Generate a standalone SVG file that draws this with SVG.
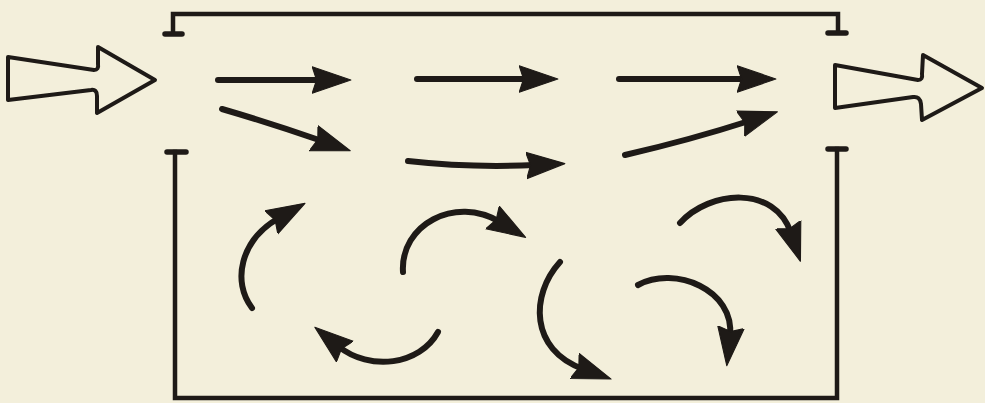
<svg xmlns="http://www.w3.org/2000/svg" width="985" height="403" viewBox="0 0 985 403">
<style>
.bg{fill:#f3efdb}
.wall{fill:none;stroke:#1e1a17;stroke-width:4.5;stroke-linecap:square;stroke-linejoin:miter}
.foot{fill:none;stroke:#1e1a17;stroke-width:5.5;stroke-linecap:round}
.hollow{fill:#f3efdb;stroke:#1e1a17;stroke-width:4;stroke-linejoin:round}
.flow{fill:none;stroke:#1e1a17;stroke-width:6;stroke-linecap:round;marker-end:url(#ah)}
</style>
<defs>
<marker id="ah" markerUnits="userSpaceOnUse" markerWidth="42" markerHeight="30" viewBox="0 -13 38 26" refX="8" refY="0" orient="auto">
<path d="M0,-12 L35,0 L0,12 L4,0 Z" fill="#1e1a17" stroke="#1e1a17" stroke-width="1" stroke-linejoin="round"/>
</marker>
</defs>
<rect class="bg" x="0" y="0" width="985" height="403"/>
<g id="upper-wall">
<path class="wall" d="M173,33 L173,14 L838,14 L838,32"/>
<path class="foot" d="M165,34 L182,34 M828,33 L846,33"/>
</g>
<g id="lower-wall">
<path class="wall" d="M175,152 L175,398 L837,398 L837,149"/>
<path class="foot" d="M167,152 L186,152 M828,149 L846,149"/>
</g>
<g id="inlet">
<path class="hollow" d="M8,57 L94,70 Q99,70 98,64 L98,47 L155,80 L97,113 L97,96 Q97,89 91,90 L8,100 Z"/>
</g>
<g id="outlet">
<path class="hollow" d="M835,65 L918,80 Q923,80 922,74 L923,55 L982,88 L922,120 L921,104 Q920,96 913,97 L835,108 Z"/>
</g>
<g id="connectors">
<path class="flow" d="M218,80 L321,80"/>
<path class="flow" d="M417,79 L528,79"/>
<path class="flow" d="M619,79 L746,79"/>
<path class="flow" d="M222,109 Q270,123 322,141"/>
<path class="flow" d="M408,161 Q470,168 535,165"/>
<path class="flow" d="M625,155 Q690,140 749,121"/>
<path class="flow" d="M252,308 C232,282 240,240 279,218"/>
<path class="flow" d="M438,332 C420,365 370,372 338,346"/>
<path class="flow" d="M403,272 C400,225 455,195 500,222"/>
<path class="flow" d="M560,262 C530,295 530,350 583,369"/>
<path class="flow" d="M638,285 C675,265 735,290 730,336"/>
<path class="flow" d="M680,223 C710,190 775,185 791,233"/>
</g>
</svg>
